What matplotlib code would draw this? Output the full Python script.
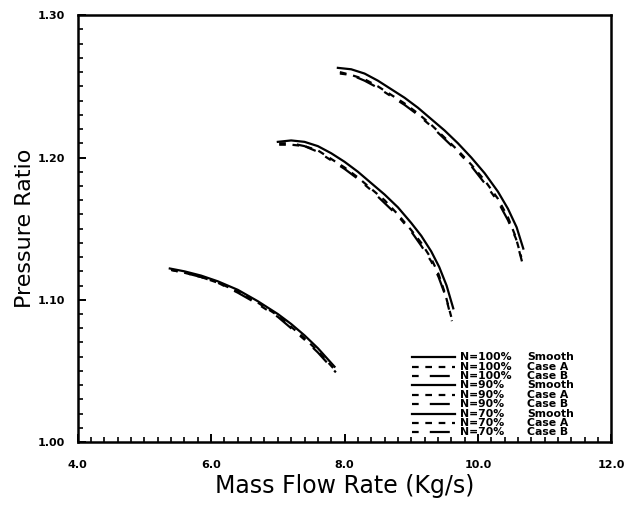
import matplotlib
matplotlib.use("Agg")
import matplotlib.pyplot as plt
from matplotlib.ticker import MultipleLocator, FormatStrFormatter

# ---- data ----
x100_s = [7.90, 8.10, 8.30, 8.50, 8.70, 8.90, 9.10, 9.30, 9.50, 9.70, 9.90, 10.10, 10.30, 10.45, 10.58, 10.68]
y100_s = [1.263, 1.262, 1.259, 1.254, 1.248, 1.242, 1.235, 1.227, 1.219, 1.210, 1.200, 1.189, 1.176, 1.164, 1.151, 1.136]
x100_a = [7.93, 8.10, 8.30, 8.50, 8.70, 8.90, 9.10, 9.30, 9.50, 9.70, 9.90, 10.10, 10.30, 10.45, 10.56, 10.65]
y100_a = [1.259, 1.258, 1.255, 1.250, 1.244, 1.238, 1.231, 1.223, 1.214, 1.205, 1.195, 1.184, 1.171, 1.158, 1.145, 1.130]
x100_b = [7.93, 8.10, 8.30, 8.50, 8.70, 8.90, 9.10, 9.30, 9.50, 9.70, 9.90, 10.10, 10.30, 10.45, 10.57, 10.66]
y100_b = [1.260, 1.258, 1.254, 1.249, 1.243, 1.237, 1.230, 1.222, 1.213, 1.204, 1.194, 1.182, 1.169, 1.156, 1.143, 1.127]

x90_s = [7.00, 7.20, 7.40, 7.60, 7.80, 8.00, 8.20, 8.40, 8.60, 8.80, 9.00, 9.15, 9.30, 9.42, 9.53, 9.63]
y90_s = [1.211, 1.212, 1.211, 1.208, 1.203, 1.197, 1.190, 1.182, 1.174, 1.165, 1.154, 1.145, 1.134, 1.123, 1.110, 1.094]
x90_a = [7.02, 7.20, 7.40, 7.60, 7.80, 8.00, 8.20, 8.40, 8.60, 8.80, 9.00, 9.15, 9.30, 9.41, 9.51, 9.60]
y90_a = [1.209, 1.209, 1.208, 1.205, 1.199, 1.193, 1.186, 1.178, 1.170, 1.160, 1.149, 1.140, 1.129, 1.118, 1.104, 1.088]
x90_b = [7.02, 7.20, 7.40, 7.60, 7.80, 8.00, 8.20, 8.40, 8.60, 8.80, 9.00, 9.15, 9.30, 9.41, 9.52, 9.61]
y90_b = [1.210, 1.210, 1.208, 1.204, 1.198, 1.192, 1.185, 1.177, 1.168, 1.159, 1.148, 1.138, 1.127, 1.116, 1.102, 1.085]

x70_s = [5.38, 5.60, 5.85, 6.10, 6.40, 6.70, 7.00, 7.20, 7.40, 7.60, 7.85]
y70_s = [1.122, 1.120, 1.117, 1.113, 1.107, 1.099, 1.090, 1.083, 1.075, 1.066, 1.053]
x70_a = [5.40, 5.60, 5.85, 6.10, 6.40, 6.70, 7.00, 7.20, 7.40, 7.60, 7.85]
y70_a = [1.121, 1.119, 1.116, 1.112, 1.106, 1.098, 1.089, 1.081, 1.073, 1.064, 1.051]
x70_b = [5.40, 5.60, 5.85, 6.10, 6.40, 6.70, 7.00, 7.20, 7.40, 7.60, 7.87]
y70_b = [1.121, 1.119, 1.116, 1.112, 1.105, 1.097, 1.088, 1.080, 1.072, 1.063, 1.049]

speeds = ["N=100%", "N=100%", "N=100%", "N=90%", "N=90%", "N=90%", "N=70%", "N=70%", "N=70%"]
cases = ["Smooth", "Case A", "Case B"] * 3
xticks = [4.0, 6.0, 8.0, 10.0, 12.0]
yticks = [1.00, 1.10, 1.20, 1.30]

# ---- styles ----
SOLID = "-"
DASH_A = (0, (3, 3))
DASH_B = (0, (3, 5, 9, 5))

fig = plt.figure(figsize=(6.27, 5.07), dpi=100)
ax = fig.add_axes([0.124, 0.128, 0.851, 0.842])

series = [
    (x100_s, y100_s, SOLID), (x100_a, y100_a, DASH_A), (x100_b, y100_b, DASH_B),
    (x90_s, y90_s, SOLID), (x90_a, y90_a, DASH_A), (x90_b, y90_b, DASH_B),
    (x70_s, y70_s, SOLID), (x70_a, y70_a, DASH_A), (x70_b, y70_b, DASH_B),
]
for (xs, ys, ls), sp, cs in zip(series, speeds, cases):
    ax.plot(xs, ys, color="black", linestyle=ls, linewidth=1.6, label=f"{sp} {cs}")

ax.set_xlim(4.0, 12.0)
ax.set_ylim(1.00, 1.30)
ax.set_xticks(xticks)
ax.set_yticks(yticks)
ax.xaxis.set_major_formatter(FormatStrFormatter("%.1f"))
ax.yaxis.set_major_formatter(FormatStrFormatter("%.2f"))
ax.xaxis.set_minor_locator(MultipleLocator(0.2))
ax.yaxis.set_minor_locator(MultipleLocator(0.01))
ax.tick_params(which="both", direction="in", colors="black")
ax.tick_params(which="major", length=6, width=1.4, labelsize=8)
ax.tick_params(axis="x", which="major", pad=13)
ax.tick_params(axis="y", which="major", pad=9)
ax.tick_params(which="minor", length=3.5, width=1.2)
for lbl in ax.get_xticklabels() + ax.get_yticklabels():
    lbl.set_fontweight("bold")
for s in ax.spines.values():
    s.set_linewidth(1.8)

ax.set_xlabel("Mass Flow Rate (Kg/s)", fontsize=17, labelpad=3)
ax.set_ylabel("Pressure Ratio", fontsize=16, labelpad=2)

# ---- legend, drawn as a small table in axes coordinates ----
W, H = 533.0, 427.0   # axes size in pixels
def ax_x(px):
    return (px - 78) / W
def ax_y(py):
    return (442 - py) / H

row0, dy = 357.0, 9.4
for i, ((_, _, ls), sp, cs) in enumerate(zip(series, speeds, cases)):
    py = row0 + dy * i
    ax.plot([ax_x(412), ax_x(455)], [ax_y(py), ax_y(py)], transform=ax.transAxes,
            color="black", linestyle=ls, linewidth=1.6, clip_on=False)
    ax.text(ax_x(460), ax_y(py), sp, transform=ax.transAxes, fontsize=7.8,
            fontweight="bold", va="center", ha="left")
    ax.text(ax_x(527), ax_y(py), cs, transform=ax.transAxes, fontsize=7.8,
            fontweight="bold", va="center", ha="left")

fig.savefig("out.png", dpi=100)
